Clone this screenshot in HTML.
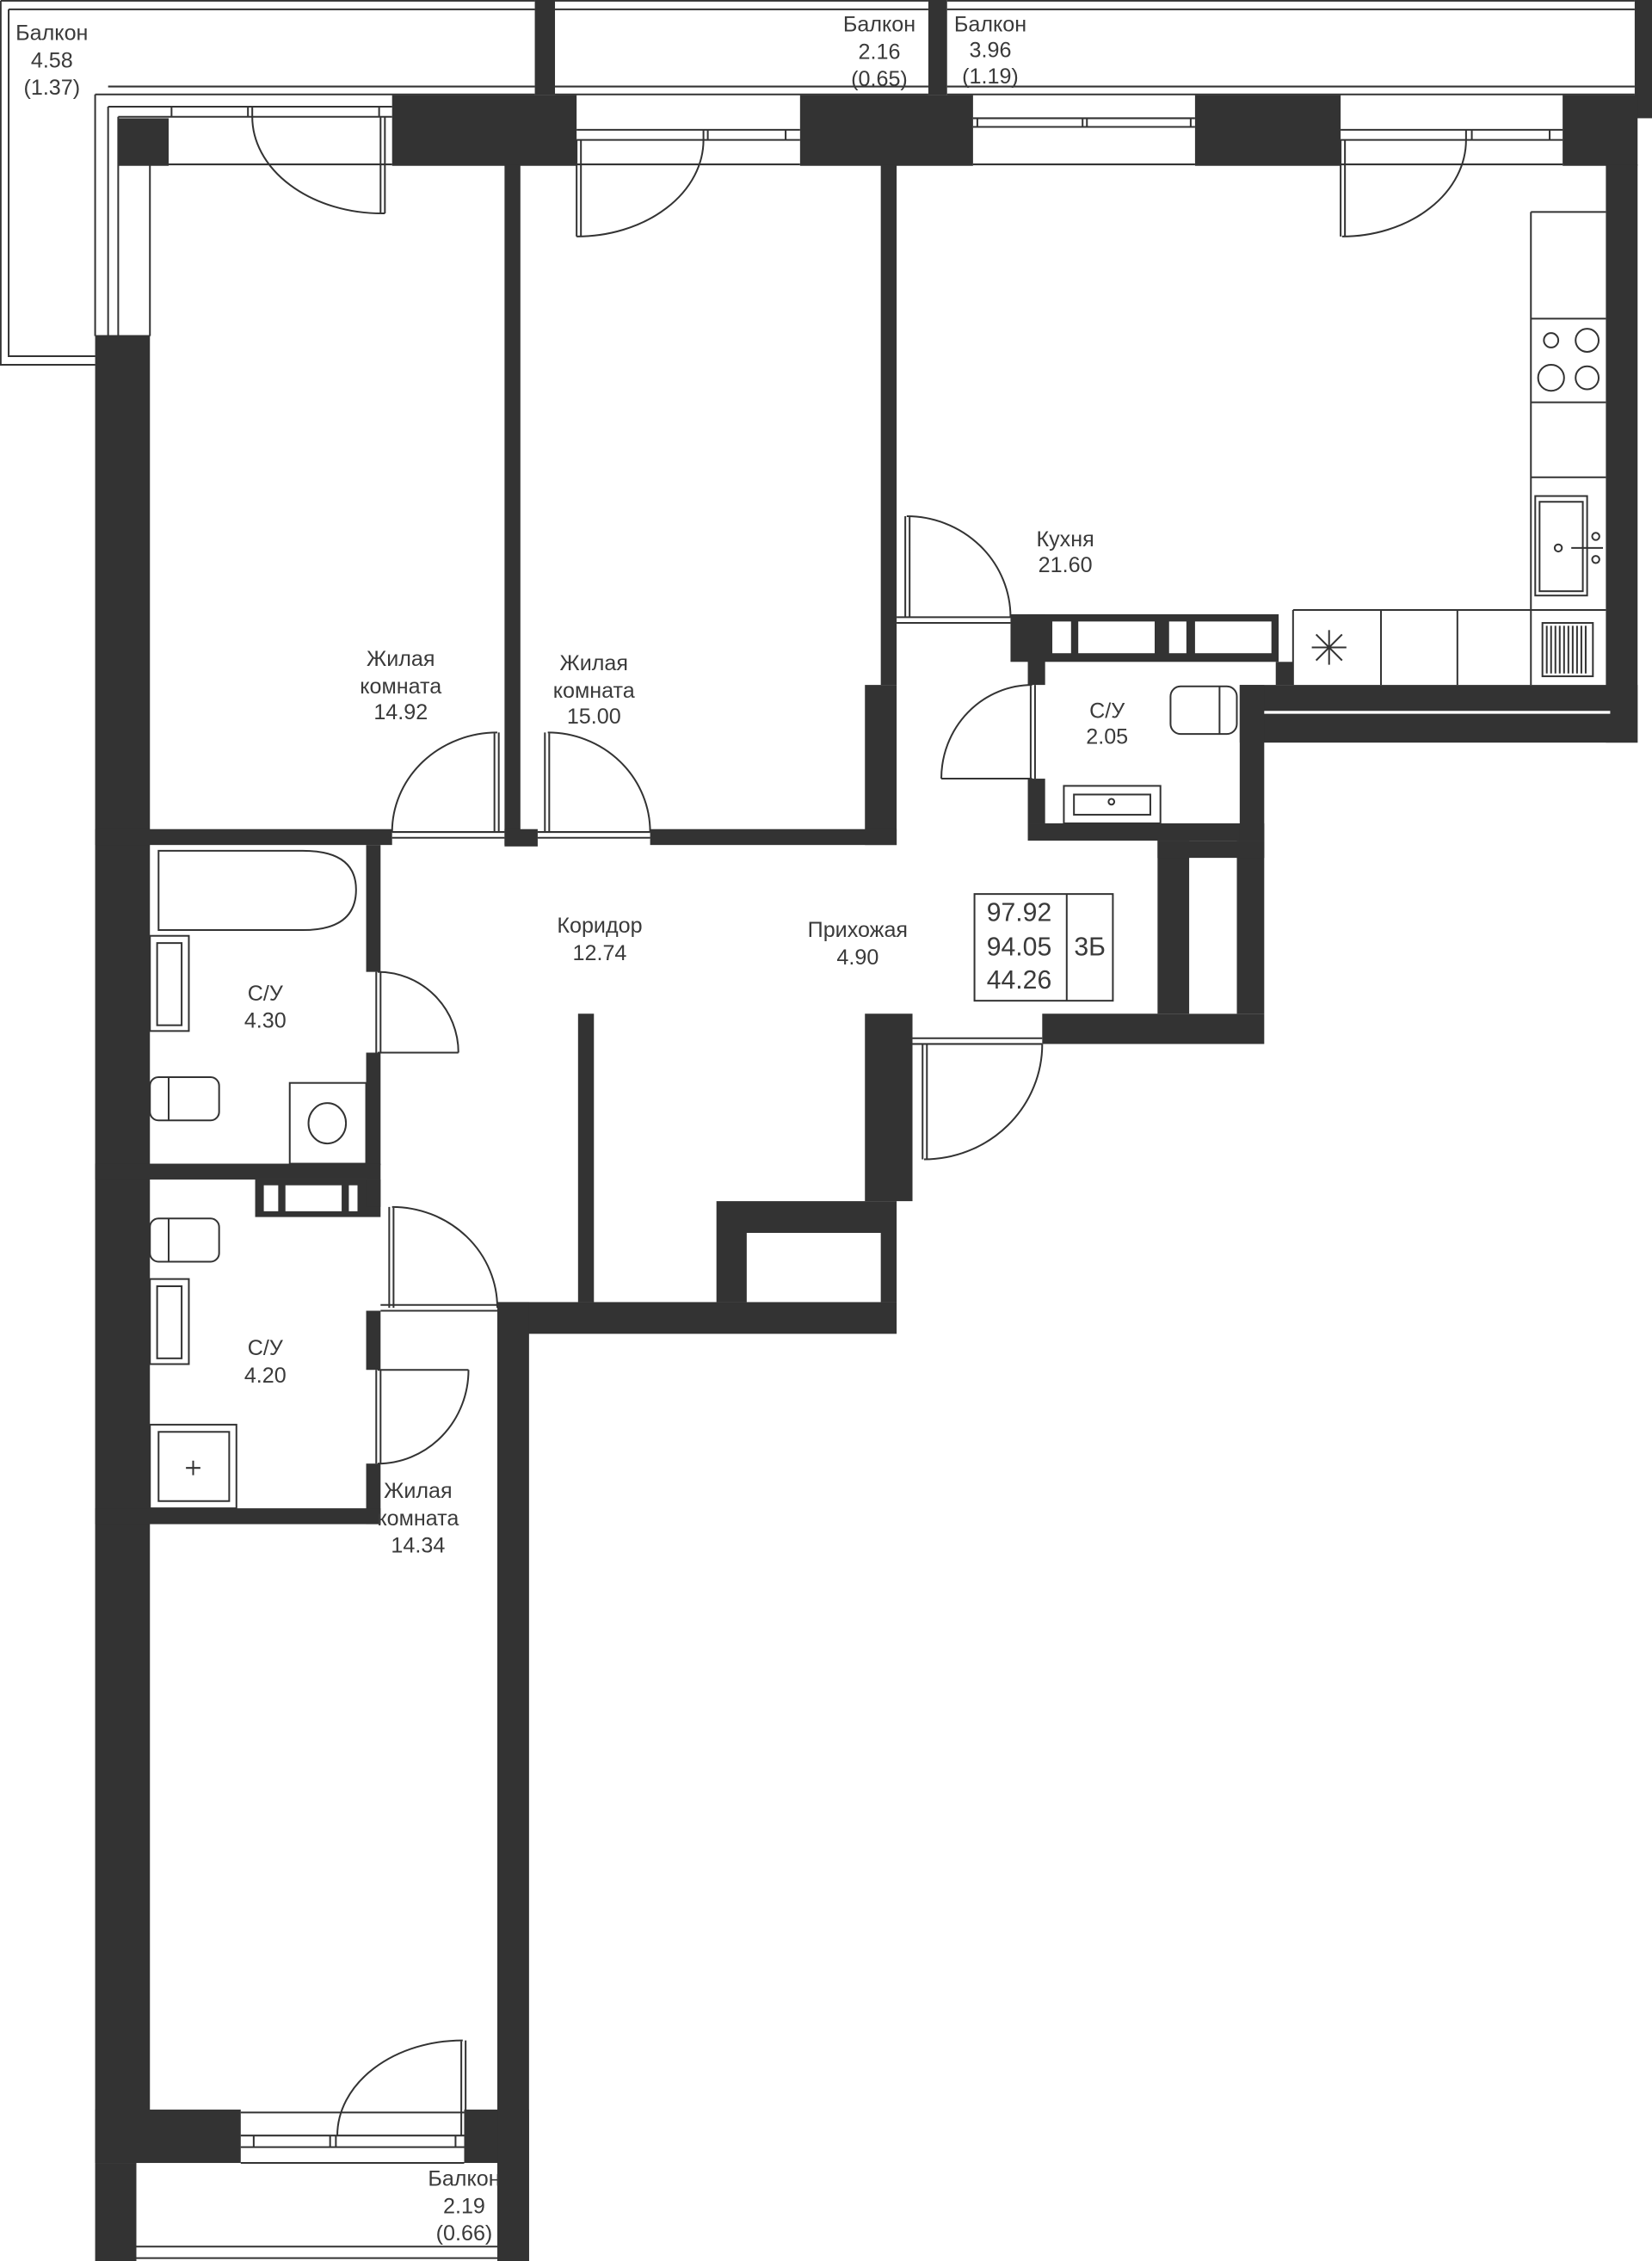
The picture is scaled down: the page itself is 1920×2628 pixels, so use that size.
<!DOCTYPE html>
<html><head><meta charset="utf-8"><style>
html,body{margin:0;padding:0;background:#fff;}
svg{display:block;}
text{font-family:"Liberation Sans",sans-serif;fill:#3a3a3a;font-size:15px;text-anchor:middle;dominant-baseline:central;}
</style></head><body>
<svg width="1920" height="2628" viewBox="0 0 1146 1568" preserveAspectRatio="none" xmlns="http://www.w3.org/2000/svg">
<g fill="none" stroke="#333" stroke-width="1.2">
<path d="M0.5,0.5 H371 M0.5,0.5 V253 H66 M6,6.5 H371 M6,6.5 V247 H66 M75,60 H371 M66,65.5 H371"/>
<path d="M385,0.5 H644 M385,6.5 H644 M385,60 H644 M385,65.5 H644"/>
<path d="M657,0.5 H1134 M657,6.5 H1134 M657,60 H1134 M657,65.5 H1134"/>
<path d="M66,65.5 V233 M75,74 V233 M82,81 V233 M104,114 V233 M66,233 H104"/>
<path d="M75,74 H272 M82,81 H272 M117,114 H272 M119,74 V81 M172,74 V81 M175,74 V81 M263,74 V81"/>
<path d="M400,90 H555 M400,97 H555 M400,114 H555 M488,90 V97 M491,90 V97 M545,90 V97"/>
<path d="M675,82 H829 M675,88 H829 M675,114 H829 M678,82 V88 M751,82 V88 M754,82 V88 M826,82 V88"/>
<path d="M930,90 H1084 M930,97 H1084 M930,114 H1084 M1017,90 V97 M1021,90 V97 M1075,90 V97"/>
<path d="M264,81 V148 M267,81 V148 M264,148 H267 M175,81 A90,67 0 0 0 265,148"/>
<path d="M400,97 V164 M403,97 V164 M400,164 A88,67 0 0 0 488,97"/>
<path d="M930,97 V164 M933,97 V164 M931,164 A86,67 0 0 0 1017,97"/>
<path d="M343,508 V577 M346,508 V577 M272,577 A73,69 0 0 1 345,508 M272,577 H350 M272,581 H350"/>
<path d="M378,508 V577 M381,508 V577 M380,508 A71,69 0 0 1 451,577 M373,577 H451 M373,581 H451"/>
<path d="M628,358 V428 M631,358 V428 M629,358 A72,70 0 0 1 701,428 M622,428 H701 M622,432 H701"/>
<path d="M715,475 V540 M718,475 V540 M716,475 A63,65 0 0 0 653,540 M653,540 H716"/>
<path d="M261,674 V730 M264,674 V730 M262,674 A56,56 0 0 1 318,730 M262,730 H318"/>
<path d="M270,837 V907 M273,837 V907 M272,837 A73,70 0 0 1 345,907 M264,905 H345 M264,909 H345"/>
<path d="M261,950 V1015 M264,950 V1015 M262,1015 A63,65 0 0 0 325,950 M262,950 H325"/>
<path d="M640,724 V804 M643,724 V804 M641,804 A82,80 0 0 0 723,724 M633,720 H723 M633,724 H723"/>
<path d="M167,1465 H322 M167,1481 H322 M167,1489 H322 M167,1500 H322 M176,1481 V1489 M229,1481 V1489 M233,1481 V1489 M316,1481 V1489"/>
<path d="M320,1415 V1481 M323,1415 V1481 M321,1415 A87,66 0 0 0 234,1481"/>
<path d="M94,1500 V1568 M355,1500 V1568 M94,1558 H355 M94,1566 H355"/>
<path d="M1062,147 H1114 M1062,147 V475 M1062,221 H1114 M1062,279 H1114 M1062,331 H1114 M1062,423 H1114 M897,423 H1062 M897,423 V475 M958,423 V475 M1011,423 V475"/>
<rect x="1065" y="344" width="36" height="69"/><rect x="1068" y="348" width="30" height="62"/>
<circle cx="1076" cy="236" r="5"/><circle cx="1101" cy="236" r="8"/><circle cx="1076" cy="262" r="9"/><circle cx="1101" cy="262" r="8"/>
<circle cx="1081" cy="380" r="2.5"/><circle cx="1107" cy="372" r="2.5"/><circle cx="1107" cy="388" r="2.5"/>
<path d="M1090,380 H1112"/>
<path d="M913,440 L931,458 M931,440 L913,458 M922,437 V461 M910,449 H934"/>
<rect x="812" y="476" width="46" height="33" rx="7"/><path d="M846,476 V509"/>
<rect x="738" y="545" width="67" height="26"/><rect x="745" y="551" width="53" height="14"/>
<circle cx="771" cy="556" r="2"/>
<path d="M110,590 H210 Q247,590 247,617 Q247,645 210,645 H110 Z"/>
<rect x="104" y="649" width="27" height="66"/><rect x="109" y="654" width="17" height="57"/>
<rect x="104" y="747" width="48" height="30" rx="6"/><path d="M117,747 V777"/>
<rect x="201" y="751" width="53" height="56"/><ellipse cx="227" cy="779" rx="13" ry="14"/>
<rect x="104" y="845" width="48" height="30" rx="6"/><path d="M117,845 V875"/>
<rect x="104" y="887" width="27" height="59"/><rect x="109" y="892" width="17" height="50"/>
<rect x="104" y="988" width="60" height="58"/><rect x="110" y="993" width="49" height="48"/>
<path d="M134,1013 V1023 M129,1018 H139"/>
<rect x="676" y="620" width="96" height="74"/><path d="M740,620 V694"/>
<rect x="1070" y="432" width="35" height="37"/>
<path d="M1073,434 V467 M1076,434 V467 M1079,434 V467 M1082,434 V467 M1085,434 V467 M1088,434 V467 M1091,434 V467 M1094,434 V467 M1097,434 V467 M1100,434 V467"/>
</g>
<g fill="#333">
<rect x="371" y="0" width="14" height="66"/>
<rect x="644" y="0" width="13" height="66"/>
<rect x="1134" y="0" width="12" height="82"/>
<rect x="82" y="82" width="35" height="33"/>
<rect x="272" y="66" width="128" height="49"/>
<rect x="555" y="66" width="120" height="49"/>
<rect x="829" y="66" width="101" height="49"/>
<rect x="1084" y="66" width="52" height="49"/>
<rect x="1114" y="114" width="22" height="401"/>
<rect x="860" y="475" width="276" height="40"/>
<rect x="66" y="233" width="38" height="1267"/>
<rect x="66" y="1463" width="101" height="37"/>
<rect x="322" y="1463" width="45" height="37"/>
<rect x="66" y="1500" width="28" height="68"/>
<rect x="355" y="1500" width="12" height="68"/>
<rect x="350" y="114" width="11" height="472"/>
<rect x="611" y="114" width="11" height="361"/>
<rect x="600" y="475" width="22" height="111"/>
<rect x="66" y="575" width="206" height="11"/>
<rect x="451" y="575" width="171" height="11"/>
<rect x="350" y="575" width="23" height="12"/>
<rect x="254" y="586" width="10" height="88"/>
<rect x="254" y="730" width="10" height="78"/>
<rect x="66" y="807" width="198" height="11"/>
<rect x="177" y="818" width="87" height="26"/>
<rect x="254" y="818" width="10" height="19"/>
<rect x="254" y="909" width="10" height="41"/>
<rect x="254" y="1015" width="10" height="42"/>
<rect x="66" y="1046" width="198" height="11"/>
<rect x="345" y="903" width="277" height="22"/>
<rect x="345" y="903" width="22" height="665"/>
<rect x="497" y="833" width="125" height="70"/>
<rect x="600" y="703" width="33" height="130"/>
<rect x="723" y="703" width="154" height="21"/>
<rect x="803" y="583" width="22" height="120"/>
<rect x="858" y="583" width="19" height="120"/>
<rect x="803" y="583" width="74" height="12"/>
<rect x="713" y="571" width="164" height="12"/>
<rect x="713" y="426" width="12" height="49"/>
<rect x="713" y="540" width="12" height="31"/>
<rect x="860" y="475" width="17" height="108"/>
<rect x="701" y="426" width="186" height="33"/>
<rect x="885" y="459" width="12" height="16"/>
<rect x="401" y="703" width="11" height="200"/>
</g>
<g fill="#fff">
<rect x="877" y="493" width="240" height="2"/>
<rect x="518" y="855" width="93" height="48"/>
<rect x="825" y="595" width="33" height="108"/>
<rect x="730" y="431" width="13" height="22"/>
<rect x="748" y="431" width="53" height="22"/>
<rect x="811" y="431" width="12" height="22"/>
<rect x="829" y="431" width="53" height="22"/>
<rect x="183" y="822" width="10" height="18"/>
<rect x="198" y="822" width="39" height="18"/>
<rect x="242" y="822" width="6" height="18"/>
</g>
<text x="36" y="23">Балкон</text><text x="36" y="42">4.58</text><text x="36" y="61">(1.37)</text>
<text x="610" y="17">Балкон</text><text x="610" y="36">2.16</text><text x="610" y="55">(0.65)</text>
<text x="687" y="17">Балкон</text><text x="687" y="35">3.96</text><text x="687" y="53">(1.19)</text>
<text x="278" y="457">Жилая</text><text x="278" y="476">комната</text><text x="278" y="494">14.92</text>
<text x="412" y="460">Жилая</text><text x="412" y="479">комната</text><text x="412" y="497">15.00</text>
<text x="739" y="374">Кухня</text><text x="739" y="392">21.60</text>
<text x="768" y="493">С/У</text><text x="768" y="511">2.05</text>
<text x="416" y="642">Коридор</text><text x="416" y="661">12.74</text>
<text x="595" y="645">Прихожая</text><text x="595" y="664">4.90</text>
<text x="184" y="689">С/У</text><text x="184" y="708">4.30</text>
<text x="184" y="935">С/У</text><text x="184" y="954">4.20</text>
<text x="290" y="1034">Жилая</text><text x="290" y="1053">комната</text><text x="290" y="1072">14.34</text>
<text x="322" y="1511">Балкон</text><text x="322" y="1530">2.19</text><text x="322" y="1549">(0.66)</text>
<text x="707" y="633" style="font-size:18px">97.92</text>
<text x="707" y="657" style="font-size:18px">94.05</text>
<text x="707" y="680" style="font-size:18px">44.26</text>
<text x="756" y="657" style="font-size:18px">3Б</text>
</svg>
</body></html>
